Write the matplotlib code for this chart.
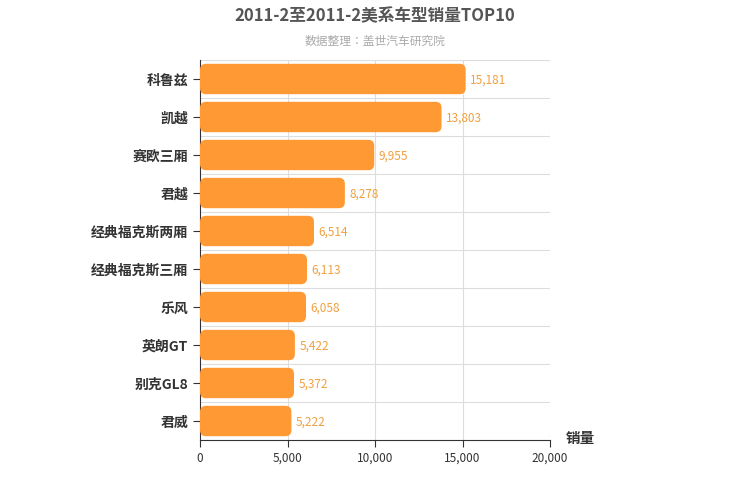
import matplotlib
matplotlib.use("Agg")
import matplotlib.pyplot as plt
from matplotlib.patches import FancyBboxPatch
from matplotlib import font_manager as fm

cjk = [f.name for f in fm.fontManager.ttflist if "CJK" in f.name or "Noto Sans SC" in f.name]
plt.rcParams['font.family'] = 'sans-serif'
plt.rcParams['font.sans-serif'] = ['Noto Sans CJK SC', 'Noto Sans CJK JP'] + cjk + ['DejaVu Sans']

categories = ["科鲁兹", "凯越", "赛欧三厢", "君越", "经典福克斯两厢", "经典福克斯三厢", "乐风", "英朗GT", "别克GL8", "君威"]
values = [15181, 13803, 9955, 8278, 6514, 6113, 6058, 5422, 5372, 5222]
xticks = [0, 5000, 10000, 15000, 20000]

fig = plt.figure(figsize=(7.5, 5), dpi=100)
ax = fig.add_axes([200/750, 0.12, 350/750, 0.76])
n = len(categories)
ax.set_xlim(0, 20000)
ax.set_ylim(n - 0.5, -0.5)

xpp = 20000 / 350
ypp = n / 380
bh = 0.8
for i, v in enumerate(values):
    p = FancyBboxPatch((0, i - bh/2), v, bh,
                       boxstyle="round,pad=0,rounding_size=%f" % (6*xpp),
                       mutation_aspect=ypp/xpp, fc="#ff9933", ec="none", zorder=3)
    ax.add_patch(p)
    ax.text(v + 250, i + 0.03, f"{v:,}", va="center", ha="left", fontsize=8.5,
            color="#f0a040", zorder=4)

for x in xticks[1:]:
    ax.axvline(x, color="#dddddd", lw=0.8, zorder=1)
for k in range(n):
    ax.axhline(k - 0.5, color="#dddddd", lw=0.8, zorder=1)

ax.set_xticks(xticks)
ax.set_xticklabels([f"{x:,}" for x in xticks], fontsize=8.5, color="#333333")
ax.set_yticks(range(n))
ax.set_yticklabels(categories, fontsize=10, fontweight="bold", color="#333333")
for s in ["top", "right"]:
    ax.spines[s].set_visible(False)
ax.spines["left"].set_color("#333333")
ax.spines["bottom"].set_color("#333333")
ax.tick_params(axis="y", length=5, color="#333333")
ax.tick_params(axis="x", length=5, color="#333333")

fig.text(375/750, 1 - 16/500, "2011-2至2011-2美系车型销量TOP10", ha="center", va="center",
         fontsize=12, fontweight="bold", color="#555555")
fig.text(375/750, 1 - 41/500, "数据整理：盖世汽车研究院", ha="center", va="center",
         fontsize=8.5, color="#aaaaaa")
fig.text(580/750, 1 - 438/500, "销量", ha="center", va="center", fontsize=10.5,
         fontweight="bold", color="#333333")

fig.savefig("out.png", dpi=100)
